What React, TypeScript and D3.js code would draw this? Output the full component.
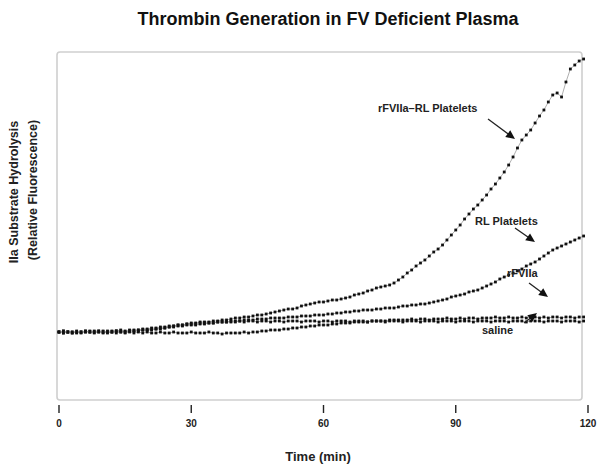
import React from "react";
import * as d3 from "d3";

// Time axis (min), one reading per minute
const minutes: number[] = Array.from({ length: 120 }, (_, i) => i);
const timeTicks: number[] = [0, 30, 60, 90, 120];

// IIa substrate hydrolysis, relative fluorescence (arbitrary units)
const rfviiaRlPlatelets: number[] = [
  68,67,68,68,67,68,68,69,68,68,69,68,68,69,69,68,69,69,69,70,
  70,70,71,71,72,73,74,75,75,76,
  77,77,78,78,78,79,79,80,80,81,
  82,82,83,83,84,85,85,86,87,88,
  89,90,91,91,92,94,95,96,97,98,
  98,99,100,100,101,102,103,105,106,107,
  109,110,112,113,114,115,117,120,123,127,
  130,134,137,140,144,148,151,155,160,165,
  170,175,181,186,191,195,200,205,211,216,
  222,228,235,243,252,260,265,270,277,284,
  290,298,305,307,303,318,331,335,339,341,
];
const rlPlatelets: number[] = [
  68,69,68,67,68,68,69,68,68,69,68,67,68,69,68,68,69,69,70,70,
  70,71,71,72,72,73,73,74,74,75,
  75,75,76,76,77,77,78,78,78,79,
  79,79,80,80,80,81,81,81,82,82,
  82,82,83,83,83,84,84,84,85,85,
  85,86,86,87,87,88,88,89,89,90,
  90,90,91,91,92,92,92,93,94,94,
  95,95,96,96,97,98,99,100,101,103,
  104,105,106,108,109,110,112,114,116,118,
  121,123,125,127,129,131,134,136,138,141,
  144,147,150,152,154,156,158,160,162,164,
];
const rfviia: number[] = [
  68,67,68,67,68,67,68,68,67,68,67,68,68,67,68,67,68,67,68,67,
  68,67,67,68,67,67,68,67,67,67,
  68,67,67,67,68,67,67,66,67,67,
  67,67,68,67,68,68,69,69,70,70,
  70,71,71,72,72,73,73,74,74,75,
  75,75,76,76,77,77,77,78,78,78,
  78,79,79,79,79,80,80,80,80,80,
  81,80,81,81,80,81,81,81,82,81,
  81,82,81,82,82,81,82,82,82,83,
  82,82,83,82,82,83,82,83,83,82,
  83,82,83,83,82,83,83,82,83,83,
];
const saline: number[] = [
  68,69,68,68,69,68,69,68,69,69,68,69,69,69,70,69,70,70,70,71,
  71,72,72,73,73,74,74,75,75,76,
  76,76,77,77,77,77,78,78,78,78,
  78,79,78,79,79,78,79,79,78,79,
  79,78,79,79,79,78,79,79,79,78,
  79,79,78,79,79,79,78,79,79,79,
  78,79,79,79,78,79,79,79,78,79,
  79,79,78,79,79,79,78,79,79,79,
  78,79,79,79,78,79,79,79,78,79,
  79,79,78,79,79,79,78,79,79,79,
  78,79,79,79,78,79,79,79,78,79,
];

const seriesNames: string[] = ["rFVIIa\u2013RL Platelets", "RL Platelets", "rFVIIa", "saline"];
const seriesValues: number[][] = [rfviiaRlPlatelets, rlPlatelets, rfviia, saline];

const W = 604;
const H = 469;
const FONT = "'Liberation Sans', Arial, Helvetica, sans-serif";

const x = d3.scaleLinear().domain([0, 120]).range([59, 588]);
const y = d3.scaleLinear().domain([0, 348]).range([400, 52]);

type Ann = { text: string; tx: number; ty: number; x1: number; y1: number; x2: number; y2: number };
const annotations: Ann[] = [
  { text: seriesNames[0], tx: 378, ty: 112, x1: 488, y1: 119, x2: 515, y2: 139 },
  { text: seriesNames[1], tx: 475, ty: 225, x1: 515, y1: 228, x2: 535, y2: 242 },
  { text: seriesNames[2], tx: 507, ty: 277, x1: 529, y1: 283, x2: 548, y2: 297 },
  { text: seriesNames[3], tx: 482, ty: 334, x1: 524, y1: 323, x2: 537, y2: 313 },
];

function arrowHead(a: Ann): string {
  const ang = Math.atan2(a.y2 - a.y1, a.x2 - a.x1);
  const L = 9, Wd = 4.2;
  const bx = a.x2 - L * Math.cos(ang), by = a.y2 - L * Math.sin(ang);
  const px = -Math.sin(ang) * Wd, py = Math.cos(ang) * Wd;
  return `M${a.x2},${a.y2}L${bx + px},${by + py}L${bx - px},${by - py}Z`;
}

export default function App() {
  const line = d3
    .line<number>()
    .x((_, i) => x(minutes[i]))
    .y((d) => y(d));

  const [x0, x1] = [57, 582];
  const [yTop, yBot] = y.range().slice().reverse();

  return (
    <svg
      width={W}
      height={H}
      viewBox={`0 0 ${W} ${H}`}
      style={{ position: "absolute", left: 0, top: 0, background: "#fff", fontFamily: FONT }}
    >
      <rect x={0} y={0} width={W} height={H} fill="#fff" />
      <text x={328} y={25} textAnchor="middle" fontSize={18} fontWeight="bold" fill="#111">
        Thrombin Generation in FV Deficient Plasma
      </text>

      {/* plot frame */}
      <rect x={x0} y={yTop} width={x1 - x0} height={yBot - yTop} rx={3} fill="none" stroke="#cfcfcf" strokeWidth={1.6} />

      {/* x ticks */}
      {timeTicks.map((t) => (
        <g key={t}>
          <line x1={x(t)} x2={x(t)} y1={405} y2={413} stroke="#222" strokeWidth={1.4} />
          <text x={x(t)} y={427} textAnchor="middle" fontSize={10} fontWeight="bold" fill="#222">
            {t}
          </text>
        </g>
      ))}
      <text x={318} y={461} textAnchor="middle" fontSize={13} fontWeight="bold" fill="#222">
        Time (min)
      </text>

      {/* y title */}
      <text transform="translate(17.5,192) rotate(-90)" textAnchor="middle" fontSize={12.5} fontWeight="bold" fill="#222">
        IIa Substrate Hydrolysis
      </text>
      <text transform="translate(36.5,190) rotate(-90)" textAnchor="middle" fontSize={12.5} fontWeight="bold" fill="#222">
        (Relative Fluorescence)
      </text>

      {/* series */}
      {seriesValues.map((vals, si) => (
        <g key={si}>
          <path d={line(vals) || ""} fill="none" stroke="#9a9a9a" strokeWidth={0.8} />
          {vals.map((v, i) => (
            <rect
              key={i}
              x={x(minutes[i]) - 1.4}
              y={y(v) - 1.4}
              width={2.8}
              height={2.8}
              fill="#111"
            />
          ))}
        </g>
      ))}

      {/* annotations */}
      {annotations.map((a, i) => (
        <g key={i}>
          <text x={a.tx} y={a.ty} fontSize={11} fontWeight="bold" fill="#222">
            {a.text}
          </text>
          <line x1={a.x1} y1={a.y1} x2={a.x2 - 6 * Math.cos(Math.atan2(a.y2 - a.y1, a.x2 - a.x1))} y2={a.y2 - 6 * Math.sin(Math.atan2(a.y2 - a.y1, a.x2 - a.x1))} stroke="#222" strokeWidth={1.3} />
          <path d={arrowHead(a)} fill="#111" />
        </g>
      ))}
    </svg>
  );
}
